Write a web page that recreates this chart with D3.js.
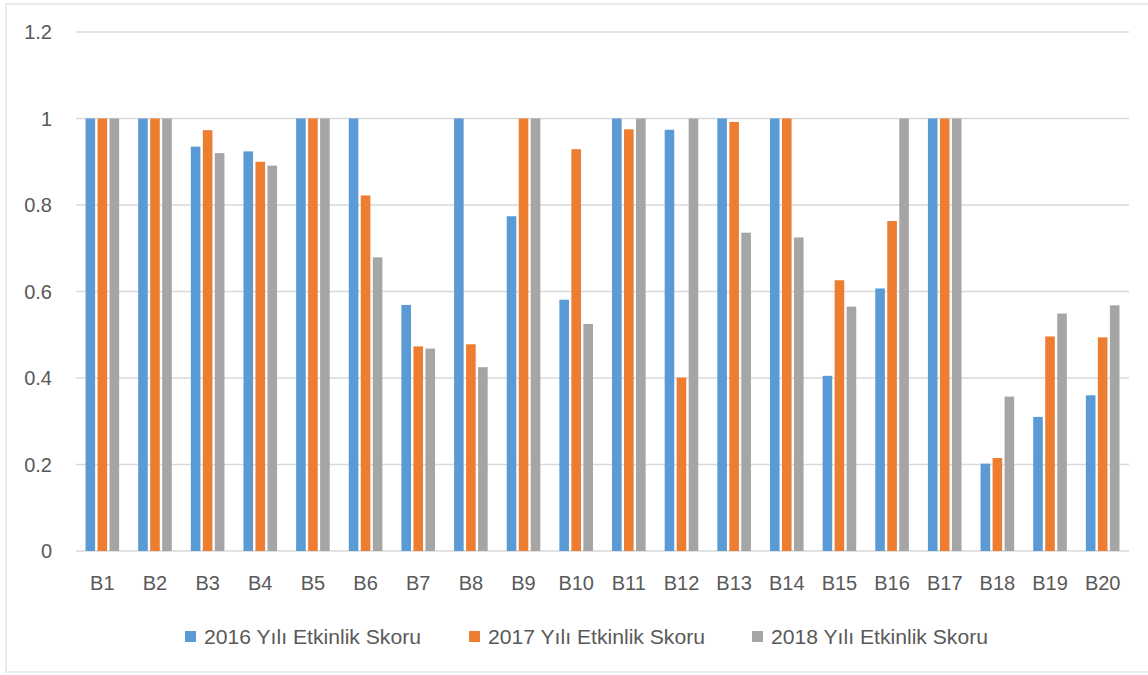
<!DOCTYPE html>
<html>
<head>
<meta charset="utf-8">
<script src="https://cdn.jsdelivr.net/npm/d3@7"></script>
<style>
  html, body { margin: 0; padding: 0; background: #fff; }
  svg { display: block; }
  text { font-family: "Liberation Sans", Arial, sans-serif; fill: #595959; }
</style>
</head>
<body>
<script>
const categories = ["B1","B2","B3","B4","B5","B6","B7","B8","B9","B10","B11","B12","B13","B14","B15","B16","B17","B18","B19","B20"];
const s2016 = [1, 1, 0.935, 0.924, 1, 1, 0.569, 1, 0.774, 0.581, 1, 0.974, 1, 1, 0.405, 0.607, 1, 0.202, 0.310, 0.360];
const s2017 = [1, 1, 0.973, 0.900, 1, 0.822, 0.473, 0.478, 1, 0.929, 0.975, 0.401, 0.992, 1, 0.626, 0.763, 1, 0.215, 0.496, 0.494];
const s2018 = [1, 1, 0.920, 0.891, 1, 0.679, 0.468, 0.425, 1, 0.525, 1, 1, 0.736, 0.725, 0.565, 1, 1, 0.357, 0.549, 0.568];
const seriesNames = ["2016 Yılı Etkinlik Skoru", "2017 Yılı Etkinlik Skoru", "2018 Yılı Etkinlik Skoru"];
const seriesColors = ["#5B9BD5", "#ED7D31", "#A5A5A5"];
const yTicks = [0, 0.2, 0.4, 0.6, 0.8, 1, 1.2];

(function () {
const W = 1148, H = 675;
const svg = d3.select("body").append("svg").attr("width", W).attr("height", H);

// outer border
svg.append("rect").attr("x", 6).attr("y", 4).attr("width", 1150).attr("height", 668)
  .attr("fill", "none").attr("stroke", "#d9d9d9").attr("stroke-width", 1);

const pL = 76, pR = 1129, pT = 32, pB = 551;
const y = d3.scaleLinear().domain([0, 1.2]).range([pB, pT]);
const x0 = d3.scaleBand().domain(categories).range([pL, pR]).paddingInner(0.316).paddingOuter(0.158);
const x1 = d3.scaleBand().domain([0,1,2]).range([0, x0.bandwidth()]);

// gridlines
svg.append("g").selectAll("line").data(yTicks).join("line")
  .attr("x1", pL).attr("x2", pR)
  .attr("y1", d => y(d)).attr("y2", d => y(d))
  .attr("stroke", "#d9d9d9").attr("stroke-width", 1.5);

// y labels
svg.append("g").selectAll("text").data(yTicks).join("text")
  .attr("x", 52).attr("y", d => y(d)).attr("dy", "0.36em")
  .attr("text-anchor", "end").attr("font-size", 20)
  .text(d => String(+d.toFixed(1)));

// bars
const series = [s2016, s2017, s2018];
const groups = svg.append("g").selectAll("g").data(categories).join("g")
  .attr("transform", d => `translate(${x0(d)},0)`);
groups.selectAll("rect").data((d, i) => series.map((s, k) => ({k, v: s[i]}))).join("rect")
  .attr("x", d => x1(d.k) + 1.2)
  .attr("width", x1.bandwidth() - 2.4)
  .attr("y", d => y(d.v))
  .attr("height", d => y(0) - y(d.v))
  .attr("fill", d => seriesColors[d.k]);

// x labels
svg.append("g").selectAll("text").data(categories).join("text")
  .attr("x", d => x0(d) + x0.bandwidth() / 2).attr("y", 590)
  .attr("text-anchor", "middle").attr("font-size", 20)
  .text(d => d);

// legend
const legX = [185, 469, 752];
const leg = svg.append("g").selectAll("g").data(seriesNames).join("g");
leg.append("rect").attr("x", (d, i) => legX[i]).attr("y", 631).attr("width", 11).attr("height", 11)
  .attr("fill", (d, i) => seriesColors[i]);
leg.append("text").attr("x", (d, i) => legX[i] + 19).attr("y", 644)
  .attr("font-size", 20).attr("textLength", 217).attr("lengthAdjust", "spacingAndGlyphs")
  .text(d => d);
})();
</script>
</body>
</html>
